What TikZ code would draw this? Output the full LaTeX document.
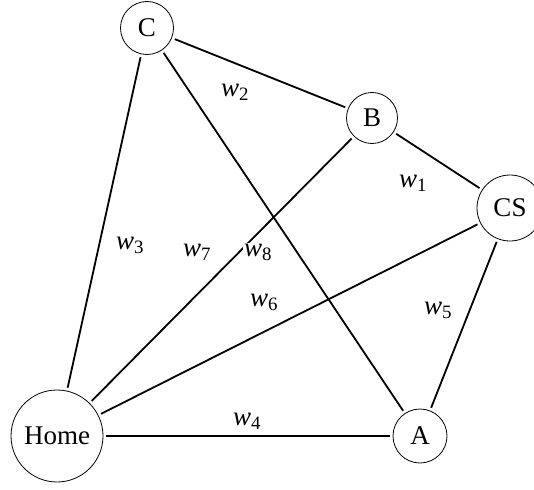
\documentclass[tikz,border=0pt]{standalone}
\usepackage{fontspec}
\setmainfont{Liberation Serif}
\newcommand{\wlbl}[1]{\textit{w}\textsubscript{#1}}

\begin{document}
\begin{tikzpicture}[
  x=1pt, y=-1pt,
  place/.style={draw, circle, line width=0.8pt, inner sep=0pt, font=\fontsize{27}{32}\selectfont},
  link/.style={line width=1.8pt, shorten <=3pt, shorten >=3pt},
  wt/.style={fill=white, inner sep=1pt, font=\fontsize{27}{32}\selectfont}
]
\useasboundingbox (0,0) rectangle (534,489);
\node[place, minimum size=53pt] (C)    at (147,28)  {C};
\node[place, minimum size=51pt] (B)    at (372,118) {B};
\node[place, minimum size=66pt] (CS)   at (510,208) {CS};
\node[place, minimum size=92pt] (Home) at (57,436)  {Home};
\node[place, minimum size=54pt] (A)    at (420,436) {A};

\draw[link] (C) -- (B);
\draw[link] (C) -- (Home);
\draw[link] (C) -- (A);
\draw[link] (B) -- (CS);
\draw[link] (B) -- (Home);
\draw[link] (CS) -- (Home);
\draw[link] (CS) -- (A);
\draw[link] (Home) -- (A);

\node[wt] (w1) at (413,183) {\wlbl{1}};
\node[wt] (w2) at (235,92)  {\wlbl{2}};
\node[wt] (w3) at (130,245) {\wlbl{3}};
\node[wt] (w4) at (247,421) {\wlbl{4}};
\node[wt] (w5) at (438,310) {\wlbl{5}};
\node[wt] (w6) at (264,302) {\wlbl{6}};
\node[wt] (w7) at (197,252) {\wlbl{7}};
\node[wt] (w8) at (258,252) {\wlbl{8}};
\end{tikzpicture}
\end{document}
